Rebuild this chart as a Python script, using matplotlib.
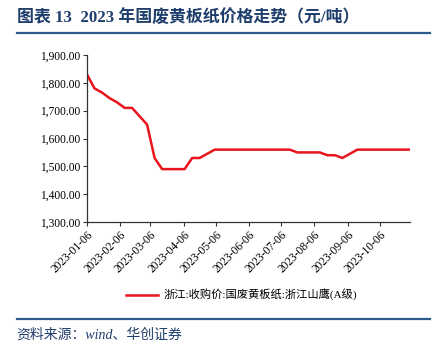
import pandas as pd
import matplotlib
matplotlib.use('Agg')
import matplotlib.pyplot as plt
from matplotlib.lines import Line2D
from matplotlib.ticker import FuncFormatter

plt.rcParams['font.family'] = ['Liberation Serif', 'Noto Sans CJK SC']

# weekly data (Fridays)
dates = pd.date_range('2023-01-06', '2023-11-03', freq='7D')
prices = [1830, 1780, 1765, 1745, 1730, 1710, 1710, 1680, 1650, 1530,
          1490, 1490, 1490, 1490, 1530, 1530, 1545, 1560, 1560, 1560,
          1560, 1560, 1560, 1560, 1560, 1560, 1560, 1560, 1550, 1550,
          1550, 1550, 1540, 1540, 1530, 1545, 1560, 1560, 1560, 1560,
          1560, 1560, 1560, 1560]
tick_labels = ['2023-01-06', '2023-02-06', '2023-03-06', '2023-04-06', '2023-05-06',
               '2023-06-06', '2023-07-06', '2023-08-06', '2023-09-06', '2023-10-06']
series_name = '浙江:收购价:国废黄板纸:浙江山鹰(A级)'
title = '图表 13  2023 年国废黄板纸价格走势（元/吨）'
source = '资料来源：wind、华创证券'

blue = '#2F5C8F'
title_blue = '#1F3E6B'

fig = plt.figure(figsize=(4.43, 3.51), dpi=100)
ax = fig.add_axes([0.1964, 0.3675, 0.729, 0.4758])

line, = ax.plot(dates[:len(prices)], prices, color='#E8141E', lw=1.8, label=series_name)

ax.set_ylim(1300, 1900)
ax.set_yticks(range(1300, 1901, 100))
ax.yaxis.set_major_formatter(FuncFormatter(lambda v, p: '{:,.2f}'.format(v)))
ax.set_xlim(pd.Timestamp('2023-01-06'), pd.Timestamp('2023-11-03'))
ax.set_xticks(pd.to_datetime(tick_labels))
ax.set_xticklabels(tick_labels, rotation=45, ha='right', rotation_mode='anchor')
ax.tick_params(axis='both', labelsize=8.3, length=3, width=0.8, color='#333333', pad=2)

for s in ['top', 'right']:
    ax.spines[s].set_visible(False)
for s in ['left', 'bottom']:
    ax.spines[s].set_color('#333333')
    ax.spines[s].set_linewidth(0.9)

fig.legend(handles=[line], loc='center', bbox_to_anchor=(0.545, 0.16), frameon=False,
           fontsize=8.1, handlelength=2.8, handletextpad=0.5)

# title and frame lines
fig.text(0.038, 0.948, title, fontsize=12.2, fontweight='bold', color=title_blue,
         va='center', ha='left')
fig.add_artist(Line2D([0.038, 0.97], [0.905, 0.905], color=blue, lw=1.6))
fig.add_artist(Line2D([0.038, 0.97], [0.09, 0.09], color=blue, lw=1.6))
fig.text(0.038, 0.047, source, fontsize=10, style='italic', color=title_blue,
         va='center', ha='left')

fig.savefig('out.png', dpi=100)
